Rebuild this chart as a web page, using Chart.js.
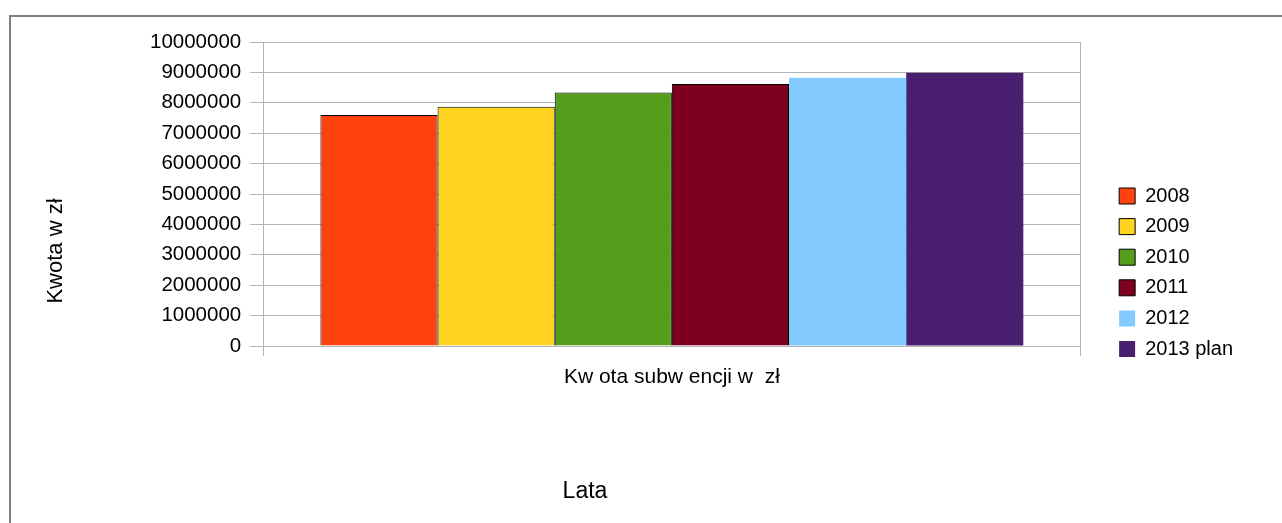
<!DOCTYPE html>
<html>
<head>
<meta charset="utf-8">
<script src="https://cdn.jsdelivr.net/npm/chart.js@4.4.0/dist/chart.umd.min.js"></script>
<style>
  body { margin: 0; background: #fff; overflow: hidden; }
  #ramka { position: absolute; left: 9px; top: 15px; width: 1400px; height: 600px; border: 2px solid #808080; }
  #wykres { position: absolute; left: 0; top: 0; }
</style>
</head>
<body>
<div id="ramka"></div>
<canvas id="wykres" width="1282" height="523"></canvas>
<script>
const kategorie = ["Kw ota subw encji w  zł"];
const lata = ["2008", "2009", "2010", "2011", "2012", "2013 plan"];
const kwoty = [7600000, 7870000, 8340000, 8620000, 8820000, 8990000];
const kolory = ["#ff420e", "#ffd320", "#579d1c", "#7e0021", "#83caff", "#4b1f6f"];
const obramowanie = [1, 1, 1, 1, 0, 0];
const tytulY = "Kwota w zł";
const tytulX = "Lata";

const czcionka = "'Liberation Sans', Arial, sans-serif";

const zbiory = lata.map((rok, i) => ({
  label: rok,
  data: [kwoty[i]],
  backgroundColor: kolory[i],
  borderColor: "#000000",
  borderWidth: obramowanie[i],
  borderSkipped: "bottom",
}));

// dodatkowe podpisy osi rysowane poza obszarem wykresu
const podpisy = {
  id: "podpisy",
  afterDraw(chart) {
    const ctx = chart.ctx;
    ctx.save();
    ctx.fillStyle = "#000";
    ctx.textAlign = "center";
    ctx.textBaseline = "middle";
    ctx.font = "22px " + czcionka;
    ctx.translate(56, 251);
    ctx.rotate(-Math.PI / 2);
    ctx.fillText(tytulY, 0, 0);
    ctx.restore();
    ctx.save();
    ctx.fillStyle = "#000";
    ctx.textAlign = "center";
    ctx.textBaseline = "middle";
    ctx.font = "23px " + czcionka;
    ctx.fillText(tytulX, 585, 492);
    ctx.restore();
  },
};

const wykres = new Chart(document.getElementById("wykres"), {
  type: "bar",
  data: {
    labels: kategorie,
    datasets: zbiory,
  },
  options: {
    responsive: false,
    animation: false,
    layout: { padding: { left: 141, top: 42, bottom: 20, right: 39 } },
    datasets: {
      bar: { barPercentage: 1, categoryPercentage: 0.86 },
    },
    scales: {
      x: {
        offset: true,
        grid: { color: "#b3b3b3", tickLength: 10, offset: true },
        border: { color: "#b3b3b3" },
        ticks: { color: "#000", padding: 9, font: { family: czcionka, size: 21 } },
        afterFit(scale) { scale.height = 157; },
      },
      y: {
        min: 0,
        max: 10000000,
        ticks: {
          stepSize: 1000000,
          color: "#000",
          padding: 9,
          font: { family: czcionka, size: 20.5 },
          callback: (v) => String(v),
        },
        grid: { color: "#b3b3b3", tickLength: 13 },
        border: { color: "#b3b3b3" },
      },
      odstep: {
        position: "right",
        display: true,
        grid: { display: false, drawOnChartArea: false },
        border: { display: false },
        ticks: { display: false },
        afterFit(scale) { scale.width = 28; },
      },
    },
    plugins: {
      legend: {
        position: "right",
        labels: {
          boxWidth: 16,
          boxHeight: 16,
          padding: 10.6,
          color: "#000",
          font: { family: czcionka, size: 20 },
        },
      },
      tooltip: { enabled: false },
    },
  },
  plugins: [podpisy],
});
</script>
</body>
</html>
